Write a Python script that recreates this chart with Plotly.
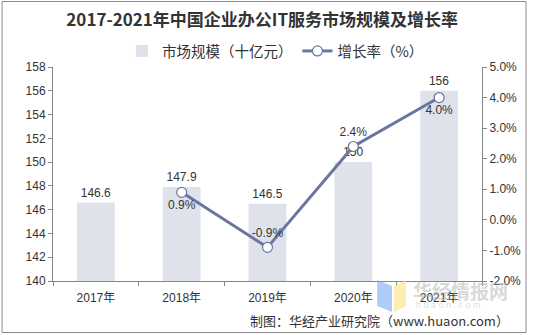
import plotly.graph_objects as go

categories = ["2017年", "2018年", "2019年", "2020年", "2021年"]
market_size = [146.6, 147.9, 146.5, 150, 156]
growth_rate = [None, 0.9, -0.9, 2.4, 4.0]
growth_text_pos = ["top center", "bottom center", "top center", "top center", "bottom center"]
rate_ticks = [-2, -1, 0, 1, 2, 3, 4, 5]

title_text = "2017-2021年中国企业办公IT服务市场规模及增长率"
bar_name = "市场规模（十亿元）"
line_name = "增长率（%）"
source_text = "制图：华经产业研究院（www.huaon.com）"

W, H = 533, 335
ML, MR, MT, MB = 53, 46, 67, 54
PW, PH = W - ML - MR, H - MT - MB


def px_x(x):
    return (x - ML) / PW


def px_y(y):
    return (H - MB - y) / PH


FONT = "Liberation Sans, Arial, Noto Sans CJK SC, sans-serif"
CJK = "Noto Sans CJK SC, sans-serif"
TXT = "#333333"
AX = "#868686"

fig = go.Figure()
fig.add_trace(go.Bar(
    x=categories, y=market_size, name=bar_name,
    marker=dict(color="#dfe2ea", line=dict(width=0)),
    width=0.44,
    text=[f"{v:g}" for v in market_size], textposition="outside",
    textfont=dict(size=12, color=TXT, family=FONT),
    cliponaxis=False,
))
fig.add_trace(go.Scatter(
    x=categories, y=growth_rate, name=line_name, yaxis="y2",
    mode="lines+markers+text",
    line=dict(color="#6a76a0", width=3),
    marker=dict(symbol="circle", size=10, color="white",
                line=dict(color="#6a76a0", width=1.2)),
    text=[None if v is None else f"{v:.1f}%" for v in growth_rate],
    textposition=growth_text_pos,
    textfont=dict(size=12, color=TXT, family=FONT),
    cliponaxis=False,
))

fig.update_layout(
    width=W, height=H,
    margin=dict(l=ML, r=MR, t=MT, b=MB),
    paper_bgcolor="white", plot_bgcolor="white",
    font=dict(family=FONT, size=12, color=TXT),
    title=dict(text="<b>" + title_text + "</b>", x=0.492, xanchor="center",
               y=1 - 20 / H, yanchor="middle", yref="container",
               font=dict(size=17, color=TXT, family=CJK)),
    legend=dict(orientation="h", x=px_x(278), xanchor="center", y=px_y(51), yanchor="middle",
                font=dict(size=14.5, color=TXT, family=CJK),
                bgcolor="rgba(0,0,0,0)", itemwidth=30, tracegroupgap=0),
    showlegend=True,
    xaxis=dict(
        showline=True, linecolor=AX, linewidth=1,
        ticks="outside", tickson="boundaries", ticklen=4, tickcolor=AX,
        showgrid=False, tickfont=dict(size=12, color=TXT, family=FONT),
        ticklabelstandoff=6,
    ),
    yaxis=dict(
        range=[140, 158], dtick=2, showline=True, linecolor=AX, linewidth=1,
        ticks="outside", ticklen=4, tickcolor=AX, showgrid=False, zeroline=False,
        tickfont=dict(size=12, color=TXT, family=FONT),
    ),
    yaxis2=dict(
        range=[-2, 5], overlaying="y", side="right",
        tickmode="array", tickvals=rate_ticks,
        ticktext=[f"{v:.1f}%" for v in rate_ticks],
        showline=True, linecolor=AX, linewidth=1,
        ticks="outside", ticklen=4, tickcolor=AX, showgrid=False, zeroline=False,
        tickfont=dict(size=12, color=TXT, family=FONT),
    ),
)

# outer border
fig.add_shape(type="rect", xref="paper", yref="paper",
              x0=px_x(1.5), x1=px_x(531.5), y0=px_y(332.5), y1=px_y(1.5),
              line=dict(color="#8c8c8c", width=1), fillcolor="rgba(0,0,0,0)", layer="above")

# watermark logo
fig.add_shape(type="path", xref="paper", yref="paper",
              path=f"M {px_x(381)} {px_y(280)} L {px_x(396)} {px_y(286)} L {px_x(396)} {px_y(312)} L {px_x(381)} {px_y(306)} Z",
              fillcolor="rgba(120,170,245,0.6)", line=dict(width=0), layer="above")
fig.add_shape(type="path", xref="paper", yref="paper",
              path=f"M {px_x(398)} {px_y(286)} L {px_x(410)} {px_y(280)} L {px_x(410)} {px_y(306)} L {px_x(398)} {px_y(312)} Z",
              fillcolor="rgba(250,225,130,0.6)", line=dict(width=0), layer="above")
fig.add_annotation(text="<b>华经情报网</b>", xref="paper", yref="paper",
                   x=px_x(415), y=px_y(290), xanchor="left", yanchor="middle", showarrow=False,
                   font=dict(size=19, color="rgba(170,170,170,0.45)", family=CJK))
fig.add_annotation(text="h u a o n . c o m", xref="paper", yref="paper",
                   x=px_x(418), y=px_y(305), xanchor="left", yanchor="middle", showarrow=False,
                   font=dict(size=9, color="rgba(170,170,170,0.45)", family=FONT))

# source
fig.add_annotation(text=source_text, xref="paper", yref="paper",
                   x=px_x(516), y=px_y(320), xanchor="right", yanchor="middle", showarrow=False,
                   font=dict(size=13, color=TXT, family=CJK))

fig.write_html("out.html")
